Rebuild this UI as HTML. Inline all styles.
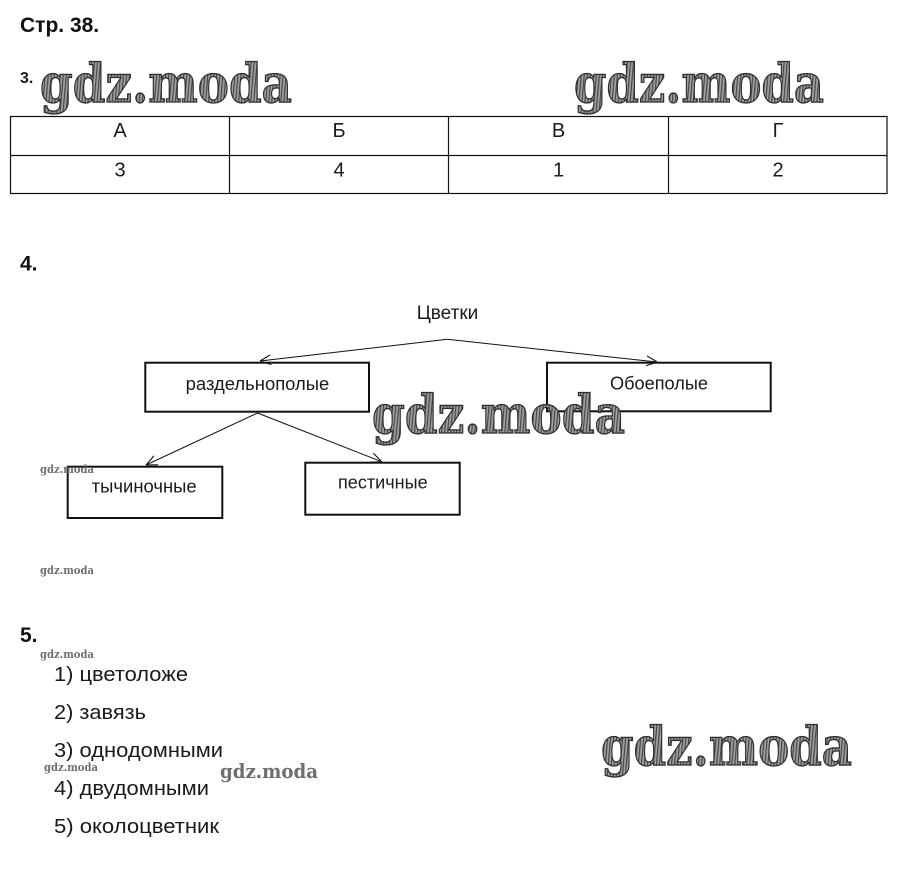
<!DOCTYPE html>
<html>
<head>
<meta charset="utf-8">
<style>
html,body{margin:0;padding:0;background:#fff;}
body{width:899px;height:890px;overflow:hidden;}
svg{display:block;}
.s{font-family:"Liberation Sans","DejaVu Sans",sans-serif;fill:#1a1a1a;}
.b{font-weight:bold;fill:#111;}
.wm{font-family:"DejaVu Serif","Liberation Serif",serif;font-weight:bold;font-style:normal;fill:url(#hatch);stroke:#2e2e2e;stroke-width:1.3;}
.wms{font-family:"DejaVu Serif","Liberation Serif",serif;font-weight:bold;font-style:normal;fill:#6e6e6e;}
</style>
</head>
<body>
<svg width="899" height="890" viewBox="0 0 899 890" xmlns="http://www.w3.org/2000/svg">
<defs>
<pattern id="hatch" width="3" height="3" patternUnits="userSpaceOnUse" patternTransform="rotate(5)">
<rect width="3" height="3" fill="#a0a0a0"/>
<rect width="1.2" height="3" fill="#464646"/>
</pattern>
<marker id="ah" viewBox="0 0 10 10" refX="10" refY="5" markerWidth="11" markerHeight="11" markerUnits="userSpaceOnUse" orient="auto">
<path d="M0,0.5 L10,5 L0,9.5" fill="none" stroke="#111" stroke-width="1"/>
</marker>
</defs>

<!-- Header -->
<text class="s b" x="20" y="32" font-size="21">Стр. 38.</text>
<text class="s" x="20" y="83" font-size="16" font-weight="bold">3.</text>

<!-- Watermarks top -->
<text class="wm" x="40" y="102" font-size="53" textLength="252" lengthAdjust="spacingAndGlyphs">gdz.moda</text>
<text class="wm" x="574" y="102" font-size="53" textLength="250" lengthAdjust="spacingAndGlyphs">gdz.moda</text>

<!-- Table -->
<g stroke="#111" stroke-width="1.2" fill="none">
<rect x="10.5" y="116.5" width="876.5" height="77"/>
<line x1="10.5" y1="155.5" x2="887" y2="155.5"/>
<line x1="229.5" y1="116.5" x2="229.5" y2="193.5"/>
<line x1="448.5" y1="116.5" x2="448.5" y2="193.5"/>
<line x1="668.5" y1="116.5" x2="668.5" y2="193.5"/>
</g>
<g class="s" font-size="20" text-anchor="middle">
<text x="120" y="137">А</text>
<text x="339" y="137">Б</text>
<text x="558.5" y="137">В</text>
<text x="778" y="137">Г</text>
<text x="120" y="176.5">3</text>
<text x="339" y="176.5">4</text>
<text x="558.5" y="176.5">1</text>
<text x="778" y="176.5">2</text>
</g>

<!-- Section 4 -->
<text class="s b" x="20" y="270.5" font-size="21">4.</text>

<text class="s" x="447.5" y="319" font-size="19" text-anchor="middle">Цветки</text>

<g stroke="#111" stroke-width="1" fill="none">
<line x1="447.3" y1="339.3" x2="260" y2="361" marker-end="url(#ah)"/>
<line x1="447.3" y1="339.3" x2="657.3" y2="362" marker-end="url(#ah)"/>
<line x1="257.5" y1="413" x2="146" y2="465" marker-end="url(#ah)"/>
<line x1="257.5" y1="413" x2="381.7" y2="461.7" marker-end="url(#ah)"/>
</g>

<g stroke="#111" stroke-width="2" fill="none">
<rect x="145.3" y="362.7" width="223.7" height="49"/>
<rect x="547" y="362.7" width="223.7" height="48.6"/>
<rect x="67.7" y="466.7" width="154.6" height="51.3"/>
<rect x="305.3" y="462.7" width="154.4" height="52"/>
</g>

<text class="wm" x="372" y="433" font-size="53" textLength="253" lengthAdjust="spacingAndGlyphs">gdz.moda</text>

<g class="s" font-size="18" fill="#222">
<text x="185.7" y="390" textLength="143.6" lengthAdjust="spacingAndGlyphs">раздельнополые</text>
<text x="610" y="389.3" textLength="98" lengthAdjust="spacingAndGlyphs">Обоеполые</text>
<text x="91.7" y="492.3" textLength="105" lengthAdjust="spacingAndGlyphs">тычиночные</text>
<text x="338" y="488.5" textLength="89.7" lengthAdjust="spacingAndGlyphs">пестичные</text>
</g>

<!-- small watermarks -->
<text class="wms" x="40" y="473" font-size="11.5" textLength="54" lengthAdjust="spacingAndGlyphs">gdz.moda</text>
<text class="wms" x="40" y="574" font-size="11.5" textLength="54" lengthAdjust="spacingAndGlyphs">gdz.moda</text>
<text class="wms" x="40" y="658" font-size="11.5" textLength="54" lengthAdjust="spacingAndGlyphs">gdz.moda</text>
<text class="wms" x="44" y="771" font-size="11.5" textLength="54" lengthAdjust="spacingAndGlyphs">gdz.moda</text>
<text class="wms" x="220" y="778" font-size="20" textLength="98" lengthAdjust="spacingAndGlyphs" fill="#828282">gdz.moda</text>

<!-- Section 5 -->
<text class="s b" x="20" y="642" font-size="21">5.</text>
<g class="s" font-size="20.5" fill="#1e1e1e">
<text x="54" y="681" textLength="134" lengthAdjust="spacingAndGlyphs">1) цветоложе</text>
<text x="54" y="719" textLength="92" lengthAdjust="spacingAndGlyphs">2) завязь</text>
<text x="54" y="757" textLength="169" lengthAdjust="spacingAndGlyphs">3) однодомными</text>
<text x="54" y="795" textLength="155" lengthAdjust="spacingAndGlyphs">4) двудомными</text>
<text x="54" y="833" textLength="165" lengthAdjust="spacingAndGlyphs">5) околоцветник</text>
</g>

<text class="wm" x="601" y="765" font-size="53" textLength="251" lengthAdjust="spacingAndGlyphs">gdz.moda</text>
</svg>
</body>
</html>
